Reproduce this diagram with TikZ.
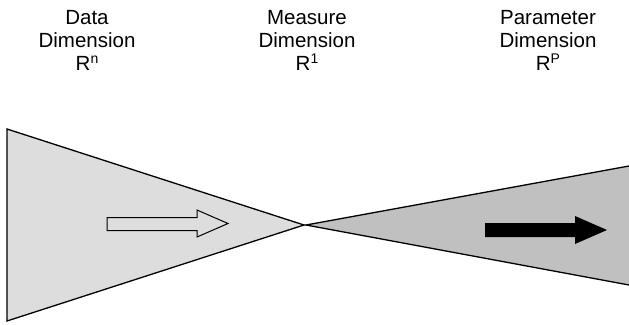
\documentclass[tikz,border=0pt]{standalone}
\usepackage{fontspec}
\setmainfont{Liberation Sans}
\usetikzlibrary{positioning}
\definecolor{dataGray}{RGB}{221,221,221}
\definecolor{paramGray}{RGB}{192,192,192}
\newcommand{\dimsup}[1]{\raisebox{7.2pt}{\fontsize{14}{14}\selectfont #1}}

\begin{document}
\begin{tikzpicture}[x=1pt, y=-1pt,
  dimlbl/.style={align=center, inner sep=0pt, anchor=north,
                 font=\fontsize{20.5}{23.3}\selectfont},
  edge/.style={draw=black, line width=1.3pt, line join=miter}
]
  \useasboundingbox (0,0) rectangle (629,324);

  % ── labels ──
  \node[dimlbl] (data) at (87,10) {Data\\Dimension\\R\dimsup{n}};
  \node[dimlbl] (measure) at (307,10) {Measure\\Dimension\\R\dimsup{1}};
  \node[dimlbl] (param) at (548,10) {Parameter\\Dimension\\R\dimsup{P}};

  % ── data cone ──
  \filldraw[fill=dataGray, edge] (7,129) -- (304,225) -- (7,321) -- cycle;
  \draw[edge, line width=1pt]
    (107,217.5) -- (197,217.5) -- (197,210) -- (228,223.5) -- (197,237)
    -- (197,230.5) -- (107,230.5) -- cycle;

  % ── parameter cone ──
  \fill[paramGray] (306,225) -- (629,166) -- (629,285) -- cycle;
  \draw[edge] (629,166) -- (306,225) -- (629,285);
  \fill[black]
    (485,223) -- (575,223) -- (575,216) -- (607,230) -- (575,244)
    -- (575,237) -- (485,237) -- cycle;
\end{tikzpicture}
\end{document}
